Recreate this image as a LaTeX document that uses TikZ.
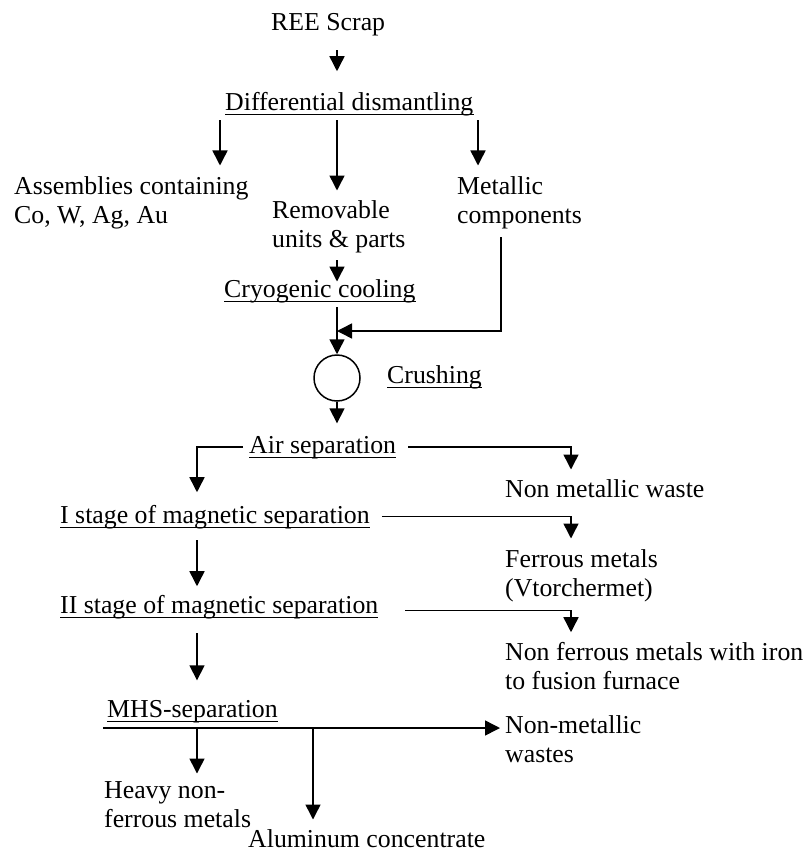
\documentclass[tikz,border=0pt]{standalone}
\usepackage{fontspec}
\setmainfont{Liberation Serif}
\usetikzlibrary{arrows.meta}
\tikzset{
  flow/.style={line width=1.5pt, -{Triangle[length=15pt,width=15pt]}},
  lbl/.style={inner sep=0pt, anchor=base west, align=left},
  ul/.style={append after command={([yshift=-4.5pt]\tikzlastnode.base west) edge[line width=1.5pt] ([yshift=-4.5pt]\tikzlastnode.base east)}}
}
\begin{document}
\begin{tikzpicture}[x=1pt,y=-1pt]
                    \useasboundingbox (0,0) rectangle (806,851);
                    {\fontsize{25.8}{29}\selectfont

                    % Columns of the connectors
                    \coordinate (trunk) at (337,0);%
                    \coordinate (lcol) at (197,0);%
                    \coordinate (acol) at (220,0);%
                    \coordinate (mcol) at (478,0);%
                    \coordinate (ccol) at (501,0);%
                    \coordinate (rcol) at (571,0);%
                    \coordinate (alcol) at (313,0);%

                    % Marking the stages (multi-line texts sit on their last line)
                    \node [lbl] (scrap) at (271,31) {REE Scrap};%
                    \node [lbl,ul] (dism) at (225,110) {Differential dismantling};%
                    \node [lbl] (assem) at (14,223) {Assemblies containing\\Co, W, Ag, Au};%
                    \node [lbl] (remov) at (272,247) {Removable\\units \& parts};%
                    \node [lbl] (metal) at (457,223) {Metallic\\components};%
                    \node [lbl,ul] (cryo) at (224,297) {Cryogenic cooling};%
                    \node [circle,draw,line width=1.5pt,minimum size=46pt,inner sep=0pt] (crusher) at (337,378) {};%
                    \node [lbl,ul] (crush) at (387,383) {Crushing};%
                    \node [lbl,ul] (air) at (249,453) {Air separation};%
                    \node [lbl] (nmw) at (505,497) {Non metallic waste};%
                    \node [lbl,ul] (mag1) at (60,523) {I stage of magnetic separation};%
                    \node [lbl] (ferr) at (505,596) {Ferrous metals\\(Vtorchermet)};%
                    \node [lbl,ul] (mag2) at (60,613) {II stage of magnetic separation};%
                    \node [lbl] (nfm) at (505,689) {Non ferrous metals with iron\\to fusion furnace};%
                    \node [lbl,ul] (mhs) at (107,717) {MHS-separation};%
                    \node [lbl] (nmwaste) at (505,762) {Non-metallic\\wastes};%
                    \node [lbl] (heavy) at (104,827) {Heavy non-\\ferrous metals};%
                    \node [lbl] (alum) at (248,847) {Aluminum concentrate};%
                    \coordinate (merge) at (337,331);%
                    \coordinate (bar) at (103,728);%

                    % Drawing the dismantling branch
                    \draw [flow,shorten <=13.4pt,shorten >=20.4pt] (scrap.south -| trunk) -- (dism.north -| trunk);%
                    \draw [flow,shorten <=4.4pt,shorten >=10.4pt] (dism.south -| acol) -- (assem.north -| acol);%
                    \draw [flow,shorten <=4.4pt,shorten >=9.4pt] (dism.south -| trunk) -- (remov.north -| trunk);%
                    \draw [flow,shorten <=4.4pt,shorten >=10.4pt] (dism.south -| mcol) -- (metal.north -| mcol);%
                    \draw [flow,shorten <=7.4pt,shorten >=-2.6pt] (remov.south -| trunk) -- (cryo.north -| trunk);%

                    % Drawing the feed of the crusher
                    \draw [flow,shorten <=4.4pt] (cryo.south -| trunk) -- (crusher.north);%
                    \draw [flow,shorten <=8.4pt] (metal.south -| ccol) |- (merge);%
                    \draw [flow,shorten >=12.4pt] (crusher.south) -- (air.north -| trunk);%

                    % Drawing the separation stages
                    \draw [flow,shorten <=6pt,shorten >=12.4pt] (air.west) -| (mag1.north -| lcol);%
                    \draw [flow,shorten <=12pt,shorten >=9.4pt] (air.east) -| (nmw.north -| rcol);%
                    \draw [flow,shorten <=12pt,shorten >=10.4pt] (mag1.east) -| (ferr.north -| rcol);%
                    \draw [flow,shorten <=11.4pt,shorten >=8.4pt] (mag1.south -| lcol) -- (mag2.north -| lcol);%
                    \draw [flow,shorten <=27pt,shorten >=9.4pt] ([yshift=-4pt]mag2.east) -| (nfm.north -| rcol);%
                    \draw [flow,shorten <=14.4pt,shorten >=19.4pt] (mag2.south -| lcol) -- (mhs.north -| lcol);%

                    % Drawing the MHS outputs
                    \draw [flow,shorten >=5pt] (bar) -- (bar -| nmwaste.west);%
                    \draw [flow,shorten >=7.4pt] (bar -| lcol) -- (heavy.north -| lcol);%
                    \draw [flow,shorten >=9.4pt] (bar -| alcol) -- (alum.north -| alcol);%
                    }
\end{tikzpicture}
\end{document}
